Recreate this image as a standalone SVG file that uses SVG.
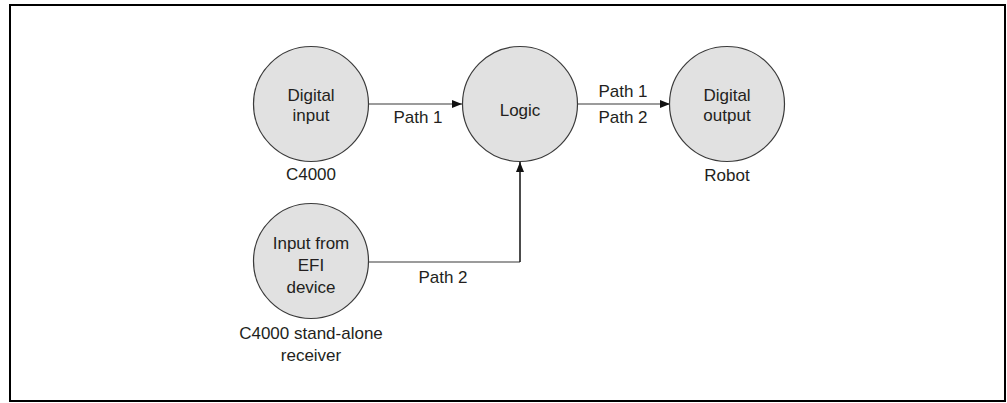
<svg xmlns="http://www.w3.org/2000/svg" width="1007" height="403" viewBox="0 0 1007 403">
<style>
.node{fill:#e1e1e1;stroke:#3a3a3a;stroke-width:1.2}
text{font-family:"Liberation Sans",Arial,sans-serif;font-size:17px;fill:#231f20;text-anchor:middle}
.gl{fill:none;stroke:#7a7a7a;stroke-width:1.5}
.bl{fill:none;stroke:#111;stroke-width:1.5}
</style>
<defs>
<marker id="ah" viewBox="0 0 10 8" refX="10" refY="4" markerWidth="10" markerHeight="8" markerUnits="userSpaceOnUse" orient="auto">
<path d="M0,0 L10,4 L0,8 Z" fill="#111"/>
</marker>
</defs>
<rect x="10" y="5" width="995" height="396" fill="#fff" stroke="#000" stroke-width="2"/>
<g id="connectors">
<line class="gl" x1="369" y1="104" x2="462" y2="104" marker-end="url(#ah)"/>
<line class="gl" x1="578" y1="104" x2="670" y2="104" marker-end="url(#ah)"/>
<path class="gl" d="M369,262 H520"/>
<path class="bl" d="M520,262 V162" marker-end="url(#ah)"/>
<text x="418" y="123">Path 1</text>
<text x="623" y="97">Path 1</text>
<text x="623" y="123">Path 2</text>
<text x="443" y="283">Path 2</text>
</g>
<g id="digital-input">
<circle class="node" cx="311" cy="104" r="57.5"/>
<text x="311" y="101">Digital</text>
<text x="311" y="121">input</text>
<text x="311" y="180">C4000</text>
</g>
<g id="logic">
<circle class="node" cx="520" cy="104" r="57.5"/>
<text x="520" y="116">Logic</text>
</g>
<g id="digital-output">
<circle class="node" cx="727" cy="104" r="57.5"/>
<text x="727" y="101">Digital</text>
<text x="727" y="121">output</text>
<text x="727" y="181">Robot</text>
</g>
<g id="efi-input">
<circle class="node" cx="311" cy="261" r="57.5"/>
<text x="311" y="249">Input from</text>
<text x="311" y="271">EFI</text>
<text x="311" y="293">device</text>
<text x="311" y="339">C4000 stand-alone</text>
<text x="311" y="361">receiver</text>
</g>
</svg>
